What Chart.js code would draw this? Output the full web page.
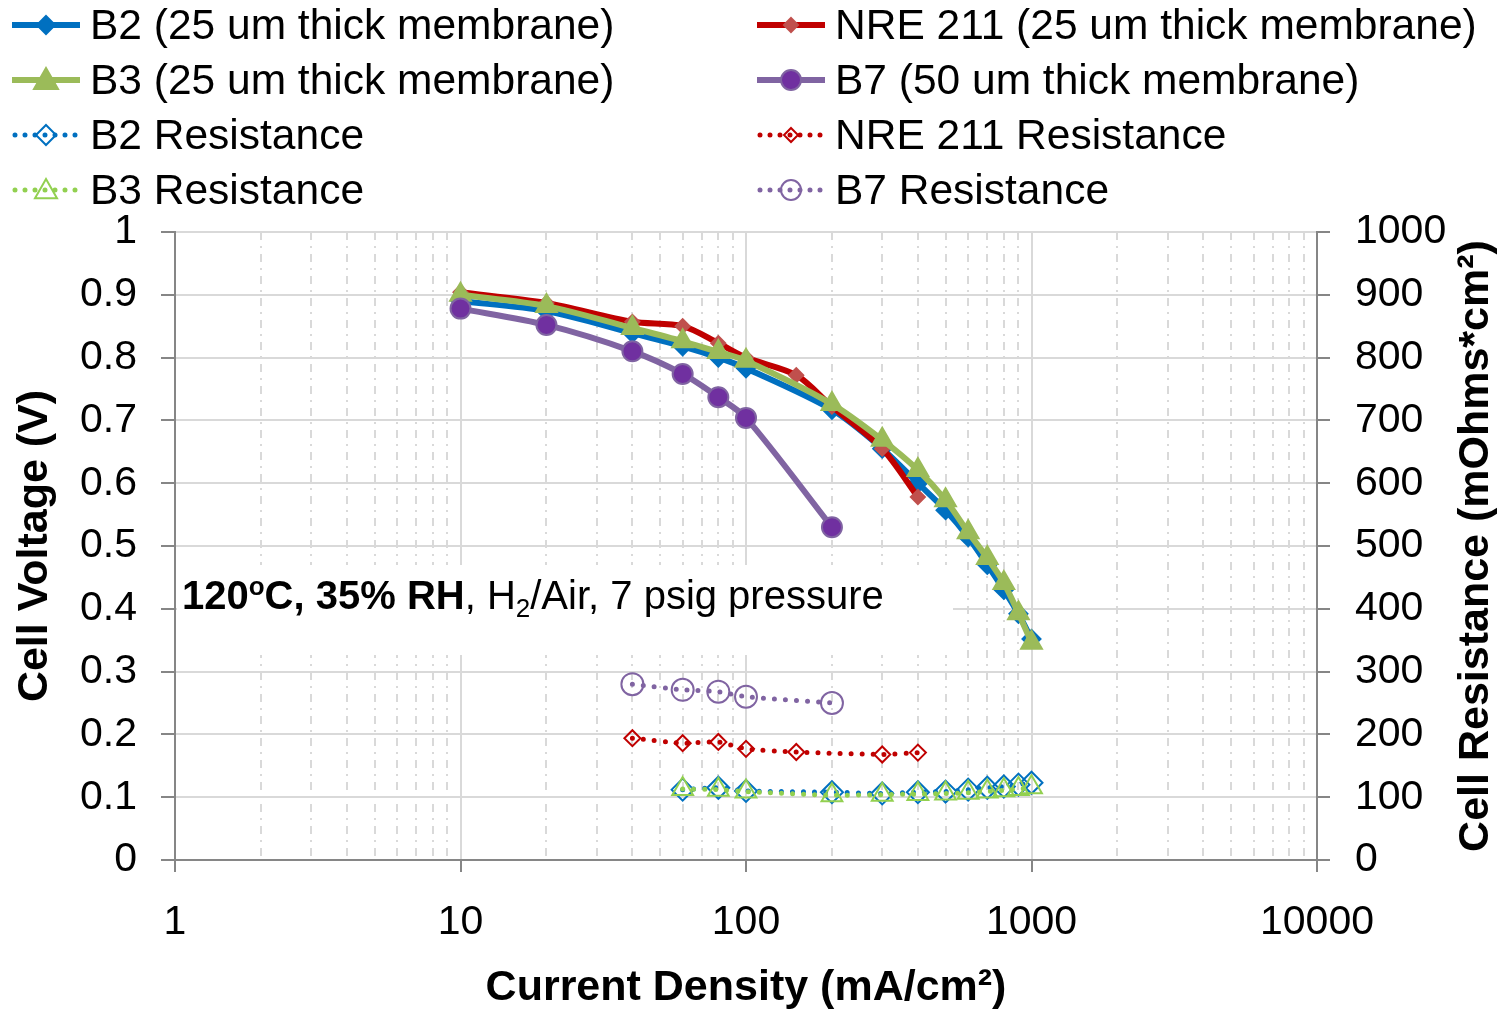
<!DOCTYPE html>
<html>
<head>
<meta charset="utf-8">
<title>Cell Voltage and Resistance vs Current Density</title>
<script src="https://cdn.jsdelivr.net/npm/chart.js"></script>
<style>
    body {
        margin: 0;
        background: #ffffff;
        font-family: 'Liberation Sans', Arial, sans-serif;
    }
    #wrap {
        position: relative;
        width: 1507px;
        height: 1014px;
        overflow: hidden;
    }
    #chart {
        position: absolute;
        left: 0;
        top: 0;
    }
    .leg {
        position: absolute;
        display: flex;
        align-items: center;
        height: 50px;
        font-size: 42.5px;
        color: #000;
        white-space: nowrap;
    }
    .leg svg {
        margin-right: 10px;
    }
</style>
</head>
<body>
<div id="wrap">
    <canvas id="chart" width="1507" height="1014"></canvas>
</div>

<script>
    // polarization curves (current density in mA/cm2, voltage in V)
    const currentB2 = [10, 20, 40, 60, 80, 100, 200, 300, 400, 500, 600, 700, 800, 900, 1000];
    const voltB2 = [0.89, 0.874, 0.839, 0.818, 0.80, 0.783, 0.717, 0.655, 0.60, 0.557, 0.514, 0.47, 0.43, 0.392, 0.352];
    const currentB3 = [10, 20, 40, 60, 80, 100, 200, 300, 400, 500, 600, 700, 800, 900, 1000];
    const voltB3 = [0.90, 0.882, 0.847, 0.826, 0.809, 0.795, 0.726, 0.669, 0.621, 0.573, 0.522, 0.481, 0.441, 0.393, 0.346];
    const currentNRE = [10, 20, 40, 60, 80, 100, 150, 200, 300, 400];
    const voltNRE = [0.904, 0.887, 0.857, 0.85, 0.823, 0.80, 0.772, 0.722, 0.655, 0.578];
    const currentB7 = [10, 20, 40, 60, 80, 100, 200];
    const voltB7 = [0.878, 0.852, 0.81, 0.774, 0.737, 0.704, 0.53];

    // cell resistance (mOhms*cm2)
    const resCurB2 = [60, 80, 100, 200, 300, 400, 500, 600, 700, 800, 900, 1000];
    const resB2 = [112, 115, 110, 108, 106, 108, 109, 112, 115, 117, 120, 123];
    const resCurB3 = [60, 80, 100, 200, 300, 400, 500, 600, 700, 800, 900, 1000];
    const resB3 = [113, 112, 109, 103, 104, 105, 106, 107, 109, 111, 113, 116];
    const resCurNRE = [40, 60, 80, 100, 150, 300, 400];
    const resNRE = [194, 186, 188, 177, 172, 168, 171];
    const resCurB7 = [40, 60, 80, 100, 200];
    const resB7 = [280, 271, 268, 260, 250];

    // tick labels
    const xTickValues = [1, 10, 100, 1000, 10000];
    const xTickLabels = ['1', '10', '100', '1000', '10000'];
    const voltTickLabels = ['0', '0.1', '0.2', '0.3', '0.4', '0.5', '0.6', '0.7', '0.8', '0.9', '1'];
    const resTickLabels = ['0', '100', '200', '300', '400', '500', '600', '700', '800', '900', '1000'];

    const FONT = "'Liberation Sans', Arial, sans-serif";
    const AXIS = '#868686';
    const GRID = '#d9d9d9';

    const pts = (xs, ys) => xs.map((x, i) => ({ x: x, y: ys[i] }));

    // log ticks: majors at decades, minors 2..9 for the dashed grid
    const logTicks = [];
    xTickValues.forEach((d, k) => {
        logTicks.push({ value: d, major: true });
        if (k < xTickValues.length - 1) {
            for (let m = 2; m <= 9; m++) logTicks.push({ value: d * m, major: false });
        }
    });

    const solid = (label, xs, ys, color, style, radius, fill, border, order) => ({
        label: label,
        data: pts(xs, ys),
        yAxisID: 'y',
        borderColor: color,
        borderWidth: 6,
        pointStyle: style,
        pointRadius: radius,
        pointBackgroundColor: fill,
        pointBorderColor: border,
        pointBorderWidth: 2,
        tension: 0.3,
        order: order
    });

    const dotted = (label, xs, ys, color, style, radius, order) => ({
        label: label,
        data: pts(xs, ys),
        yAxisID: 'y2',
        borderColor: color,
        borderWidth: 5,
        borderDash: [0, 11],
        borderCapStyle: 'round',
        pointStyle: style,
        pointRadius: radius,
        pointBackgroundColor: 'rgba(0,0,0,0)',
        pointBorderColor: color,
        pointBorderWidth: 2,
        tension: 0.2,
        order: order
    });

    const datasets = [
        solid('B2 (25 um thick membrane)', currentB2, voltB2, '#0070C0', 'rectRot', 9, '#0070C0', '#0070C0', 4),
        solid('NRE 211 (25 um thick membrane)', currentNRE, voltNRE, '#C00000', 'rectRot', 7, '#C0504D', '#C0504D', 3),
        solid('B3 (25 um thick membrane)', currentB3, voltB3, '#9BBB59', 'triangle', 12, '#9BBB59', '#9BBB59', 2),
        solid('B7 (50 um thick membrane)', currentB7, voltB7, '#8064A2', 'circle', 10, '#7030A0', '#8064A2', 1),
        dotted('B2 Resistance', resCurB2, resB2, '#0070C0', 'rectRot', 11, 6),
        dotted('NRE 211 Resistance', resCurNRE, resNRE, '#C00000', 'rectRot', 8, 7),
        dotted('B3 Resistance', resCurB3, resB3, '#92D050', 'triangle', 12, 5),
        dotted('B7 Resistance', resCurB7, resB7, '#8064A2', 'circle', 11, 8)
    ];

    // text box with the test conditions
    const notePlugin = {
        id: 'note',
        beforeDatasetsDraw(chart) {
            const ctx = chart.ctx;
            const a = chart.chartArea;
            ctx.save();
            ctx.fillStyle = '#ffffff';
            ctx.fillRect(a.left + 2, 565, 776, 90);
            const parts = [
                { t: '120', w: 'bold', s: 40, dy: 0 },
                { t: 'o', w: 'bold', s: 26, dy: -14 },
                { t: 'C, 35% RH', w: 'bold', s: 40, dy: 0 },
                { t: ', H', w: 'normal', s: 40, dy: 0 },
                { t: '2', w: 'normal', s: 26, dy: 8 },
                { t: '/Air, 7 psig pressure', w: 'normal', s: 40, dy: 0 }
            ];
            let x = a.left + 7;
            const base = 609;
            ctx.fillStyle = '#000';
            ctx.textBaseline = 'alphabetic';
            ctx.textAlign = 'left';
            parts.forEach(p => {
                ctx.font = p.w + ' ' + p.s + 'px ' + FONT;
                ctx.fillText(p.t, x, base + p.dy);
                x += ctx.measureText(p.t).width;
            });
            ctx.restore();
        },
        afterDraw(chart) {
            // right axis title reads bottom to top
            const ctx = chart.ctx;
            const a = chart.chartArea;
            ctx.save();
            ctx.translate(1476, (a.top + a.bottom) / 2);
            ctx.rotate(-Math.PI / 2);
            ctx.font = 'bold 43px ' + FONT;
            ctx.fillStyle = '#000';
            ctx.textAlign = 'center';
            ctx.textBaseline = 'middle';
            ctx.fillText('Cell Resistance (mOhms*cm²)', 0, 0);
            ctx.restore();
        }
    };

    Chart.defaults.font.family = FONT;
    Chart.defaults.color = '#000';

    new Chart(document.getElementById('chart'), {
        type: 'line',
        data: { datasets: datasets },
        options: {
            responsive: false,
            animation: false,
            layout: { padding: { top: 232, left: 0, right: 0, bottom: 0 } },
            plugins: {
                legend: { display: false },
                tooltip: { enabled: false }
            },
            scales: {
                x: {
                    type: 'logarithmic',
                    min: 1,
                    max: 10000,
                    afterBuildTicks: s => { s.ticks = logTicks.map(t => ({ value: t.value, major: t.major })); },
                    afterFit: s => { s.height = 154; },
                    ticks: {
                        autoSkip: false,
                        maxRotation: 0,
                        padding: 26,
                        font: { size: 41 },
                        callback: v => {
                            const k = xTickValues.indexOf(v);
                            return k >= 0 ? xTickLabels[k] : '';
                        }
                    },
                    grid: {
                        color: GRID,
                        lineWidth: 2,
                        tickLength: 12,
                        tickColor: c => (c.tick && c.tick.major ? AXIS : 'rgba(0,0,0,0)')
                    },
                    border: {
                        color: AXIS,
                        width: 2,
                        dash: c => (c.tick && c.tick.major ? [] : [8, 6, 2, 6])
                    },
                    title: {
                        display: true,
                        text: 'Current Density (mA/cm²)',
                        font: { size: 43, weight: 'bold' },
                        padding: { top: 0, bottom: 0 }
                    }
                },
                y: {
                    position: 'left',
                    min: 0,
                    max: 1,
                    afterFit: s => { s.width = 175; },
                    ticks: {
                        stepSize: 0.1,
                        padding: 24,
                        font: { size: 41 },
                        callback: (v, i) => voltTickLabels[i]
                    },
                    grid: {
                        color: GRID,
                        lineWidth: 2,
                        tickLength: 14,
                        tickColor: AXIS
                    },
                    border: { color: AXIS, width: 2 },
                    title: {
                        display: true,
                        text: 'Cell Voltage (V)',
                        font: { size: 43, weight: 'bold' },
                        padding: { top: 9, bottom: 0 }
                    }
                },
                y2: {
                    position: 'right',
                    min: 0,
                    max: 1000,
                    afterFit: s => { s.width = 190; },
                    ticks: {
                        stepSize: 100,
                        padding: 25,
                        font: { size: 41 },
                        callback: (v, i) => resTickLabels[i]
                    },
                    grid: {
                        drawOnChartArea: false,
                        tickLength: 13,
                        lineWidth: 2,
                        tickColor: AXIS
                    },
                    border: { color: AXIS, width: 2 }
                }
            }
        },
        plugins: [notePlugin]
    });

    // legend, two columns like the original
    const legendPos = [
        [12, 25], [757, 25],
        [12, 80], [757, 80],
        [12, 135], [757, 135],
        [12, 190], [757, 190]
    ];
    const legendOrder = [0, 1, 2, 3, 4, 5, 6, 7];

    function markerSvg(ds) {
        const cx = 34, cy = 20;
        const r = ds.yAxisID === 'y' ? ds.pointRadius : ds.pointRadius - 1;
        const fill = ds.pointBackgroundColor;
        const stroke = ds.pointBorderColor;
        if (ds.pointStyle === 'circle') {
            return `<circle cx="${cx}" cy="${cy}" r="${r}" fill="${fill}" stroke="${stroke}" stroke-width="2"/>`;
        }
        if (ds.pointStyle === 'triangle') {
            const h = r * 1.5;
            return `<polygon points="${cx},${cy - h * 0.66} ${cx + r},${cy + h * 0.5} ${cx - r},${cy + h * 0.5}" fill="${fill}" stroke="${stroke}" stroke-width="2"/>`;
        }
        return `<polygon points="${cx},${cy - r} ${cx + r},${cy} ${cx},${cy + r} ${cx - r},${cy}" fill="${fill}" stroke="${stroke}" stroke-width="2"/>`;
    }

    const wrap = document.getElementById('wrap');
    legendOrder.forEach((di, k) => {
        const ds = datasets[di];
        const [lx, ly] = legendPos[k];
        const line = ds.yAxisID === 'y'
            ? `<line x1="0" y1="20" x2="68" y2="20" stroke="${ds.borderColor}" stroke-width="6"/>`
            : `<line x1="3" y1="20" x2="66" y2="20" stroke="${ds.borderColor}" stroke-width="5" stroke-dasharray="0 10" stroke-linecap="round"/>`;
        const div = document.createElement('div');
        div.className = 'leg';
        div.style.left = lx + 'px';
        div.style.top = (ly - 25) + 'px';
        div.innerHTML = `<svg width="68" height="40" viewBox="0 0 68 40">${line}${markerSvg(ds)}</svg><span>${ds.label}</span>`;
        wrap.appendChild(div);
    });
</script>
</body>
</html>
